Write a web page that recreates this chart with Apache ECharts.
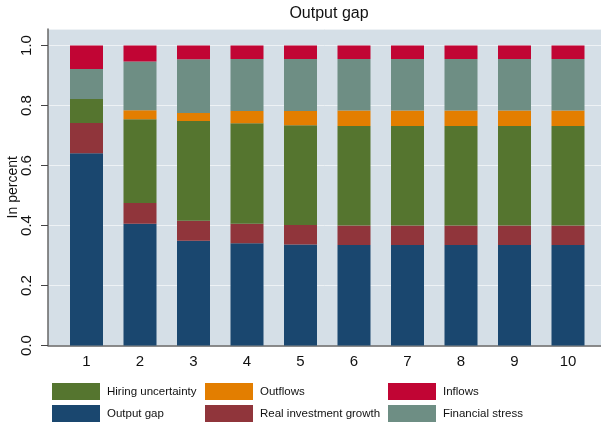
<!DOCTYPE html>
<html><head><meta charset="utf-8">
<script src="https://cdn.jsdelivr.net/npm/echarts@6/dist/echarts.min.js"></script>
<style>html,body{margin:0;padding:0;background:#fff}#c{width:601px;height:422px}</style>
</head><body><div id="c"></div>
<script>
var categories = ['1','2','3','4','5','6','7','8','9','10'];
var outputGap = [0.641,0.406,0.349,0.341,0.337,0.335,0.335,0.335,0.335,0.335];
var realInvestment = [0.101,0.069,0.067,0.065,0.065,0.065,0.065,0.065,0.065,0.065];
var hiringUncertainty = [0.080,0.279,0.332,0.335,0.332,0.332,0.332,0.332,0.332,0.332];
var outflows = [0.000,0.030,0.027,0.041,0.048,0.051,0.051,0.051,0.051,0.051];
var financialStress = [0.100,0.163,0.179,0.173,0.173,0.172,0.172,0.172,0.172,0.172];
var inflows = [0.078,0.053,0.046,0.045,0.045,0.045,0.045,0.045,0.045,0.045];

var seriesDefs = [
  ['Output gap', outputGap, '#1a476f'],
  ['Real investment growth', realInvestment, '#90353b'],
  ['Hiring uncertainty', hiringUncertainty, '#55752f'],
  ['Outflows', outflows, '#e37e00'],
  ['Financial stress', financialStress, '#6e8e84'],
  ['Inflows', inflows, '#c10534']
];
var series = seriesDefs.map(function(d){
  return {name:d[0], type:'bar', stack:'s', barWidth:33, xAxisIndex:1, yAxisIndex:1,
    itemStyle:{color:d[2]}, data:d[1]};
});
var font = 'Liberation Sans, Arial';
var legendBase = {orient:'vertical', itemWidth:48, itemHeight:17, itemGap:5, icon:'rect', padding:0, height:60,
  textStyle:{fontFamily:font, fontSize:11.5, color:'#111', padding:[0,0,0,2]}, selectedMode:false};
var chart = echarts.init(document.getElementById('c'), null, {renderer:'canvas'});
chart.setOption({
  animation:false,
  backgroundColor:'#fff',
  title:{text:'Output gap', left:324, textAlign:'center', top:1,
    textStyle:{fontFamily:font, fontSize:16, fontWeight:'normal', color:'#111'}},
  grid:[
    {left:48, right:0, top:29, bottom:76.5, show:true, backgroundColor:'#d5dfe7', borderWidth:0,
      containLabel:false, outerBoundsMode:'none'},
    {left:59.75, right:6.25, top:29, bottom:76.5, show:false, containLabel:false, outerBoundsMode:'none'}
  ],
  xAxis:[
    {type:'value', gridIndex:0, min:0, max:1, axisLine:{show:true, onZero:false, lineStyle:{color:'#666', width:1.5}},
      axisTick:{show:false}, axisLabel:{show:false}, splitLine:{show:false}},
    {type:'category', gridIndex:1, data:categories, axisLine:{show:false}, axisTick:{show:false},
      axisLabel:{fontFamily:font, fontSize:15, color:'#111', margin:9}}
  ],
  yAxis:[
    {type:'value', gridIndex:0, min:0, max:1.055, interval:0.2, name:'In percent', nameLocation:'middle', nameGap:28,
      nameMoveOverlap:false,
      nameTextStyle:{fontFamily:font, fontSize:14, color:'#111'},
      axisLine:{show:true, lineStyle:{color:'#666', width:1.5}},
      axisTick:{show:true, length:7, lineStyle:{color:'#444'}},
      splitLine:{show:true, lineStyle:{color:'#eef2f5', width:1}},
      axisLabel:{rotate:90, showMaxLabel:false, fontFamily:font, fontSize:15, color:'#111', margin:14,
        formatter:function(v){return v > 1.01 ? '' : v.toFixed(1);}}},
    {type:'value', gridIndex:1, min:0, max:1.055, show:false, splitLine:{show:false}}
  ],
  legend:[
    Object.assign({data:['Hiring uncertainty','Output gap'], left:52, top:383}, legendBase),
    Object.assign({data:['Outflows','Real investment growth'], left:205, top:383}, legendBase),
    Object.assign({data:['Inflows','Financial stress'], left:388, top:383}, legendBase)
  ],
  series:series
});
</script></body></html>
